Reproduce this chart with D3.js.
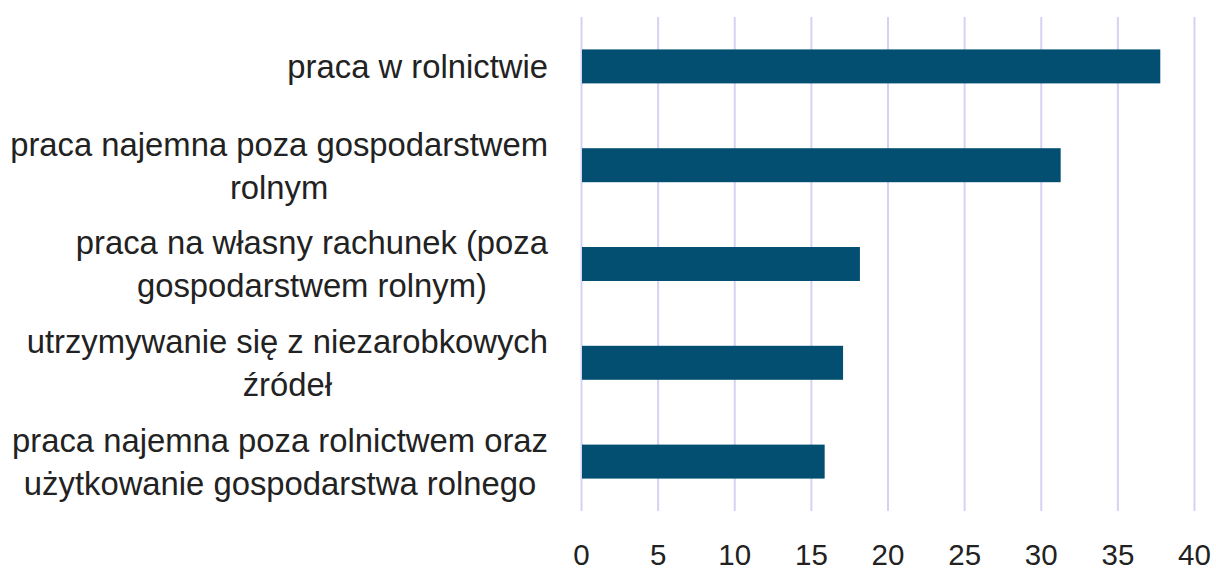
<!DOCTYPE html>
<html lang="pl">

<head>
  <meta charset="utf-8">
  <title>Źródła utrzymania</title>
  <script src="https://d3js.org/d3.v7.min.js"></script>
  <style>
    body { margin: 0; background: #fff; }
    text { font-family: "Liberation Sans", Arial, sans-serif; fill: #222; }
  </style>
</head>

<body>
  <script>
    // dane
    var categories = [
      ['praca w rolnictwie'],
      ['praca najemna poza gospodarstwem', 'rolnym'],
      ['praca na własny rachunek (poza', 'gospodarstwem rolnym)'],
      ['utrzymywanie się z niezarobkowych', 'źródeł'],
      ['praca najemna poza rolnictwem oraz', 'użytkowanie gospodarstwa rolnego']
    ];
    var values = [37.8, 31.3, 18.2, 17.1, 15.9];
    var xTicks = [0, 5, 10, 15, 20, 25, 30, 35, 40];

    var w = 1216, h = 572;
    var plot = { left: 581, right: 1194, top: 17, bottom: 511 };
    var labelRight = 548; // prawa krawędź bloku etykiety
    var lineH = 43;

    var svg = d3.select('body').append('svg')
      .attr('width', w)
      .attr('height', h);

    var x = d3.scaleLinear()
      .domain([0, 40])
      .range([plot.left, plot.right]);

    var y = d3.scaleBand()
      .domain(d3.range(categories.length))
      .range([plot.top, plot.bottom])
      .paddingInner(0.656)
      .paddingOuter(0.328);

    // siatka pionowa
    svg.append('g')
      .attr('class', 'grid')
      .attr('transform', 'translate(0,' + plot.bottom + ')')
      .call(d3.axisBottom(x).tickValues(xTicks).tickSize(-(plot.bottom - plot.top)).tickFormat(''))
      .call(function(g) {
        g.select('.domain').remove();
        g.selectAll('line').attr('stroke', '#d6d2f4').attr('stroke-width', 2);
      });

    // słupki
    svg.selectAll('.bar')
      .data(values)
    .enter().append('rect')
      .attr('class', 'bar')
      .attr('x', x(0) + 1)
      .attr('y', function(d, i) { return y(i); })
      .attr('width', function(d) { return x(d) - x(0) - 1; })
      .attr('height', y.bandwidth())
      .attr('fill', '#034f71');

    // oś X
    svg.append('g')
      .attr('transform', 'translate(0,' + plot.bottom + ')')
      .call(d3.axisBottom(x).tickValues(xTicks).tickSize(0).tickPadding(33))
      .call(function(g) {
        g.select('.domain').remove();
        g.selectAll('text')
          .style('font-family', '"Liberation Sans", Arial, sans-serif')
          .style('font-size', '29.5px')
          .attr('fill', '#222');
      });

    // etykiety kategorii - dopasowanie rozmiaru do najdłuższej linii
    var probe = svg.append('text').style('font-size', '100px');
    var maxW = 0;
    categories.forEach(function(lines) {
      lines.forEach(function(l) {
        probe.text(l);
        maxW = Math.max(maxW, probe.node().getComputedTextLength());
      });
    });
    probe.remove();
    var fs = 100 * 538 / maxW;

    var labels = svg.selectAll('.label')
      .data(categories)
    .enter().append('text')
      .attr('class', 'label')
      .style('font-size', fs + 'px')
      .attr('text-anchor', 'middle');

    labels.each(function(lines, i) {
      var t = d3.select(this);
      var cy = y(i) + y.bandwidth() / 2;
      var bw = 0;
      lines.forEach(function(l, j) {
        var ts = t.append('tspan')
          .attr('x', 0)
          .attr('y', cy + (j - (lines.length - 1) / 2) * lineH)
          .attr('dy', '0.36em')
          .text(l);
        bw = Math.max(bw, ts.node().getComputedTextLength());
      });
      t.selectAll('tspan').attr('x', labelRight - bw / 2);
    });
  </script>
</body>

</html>
